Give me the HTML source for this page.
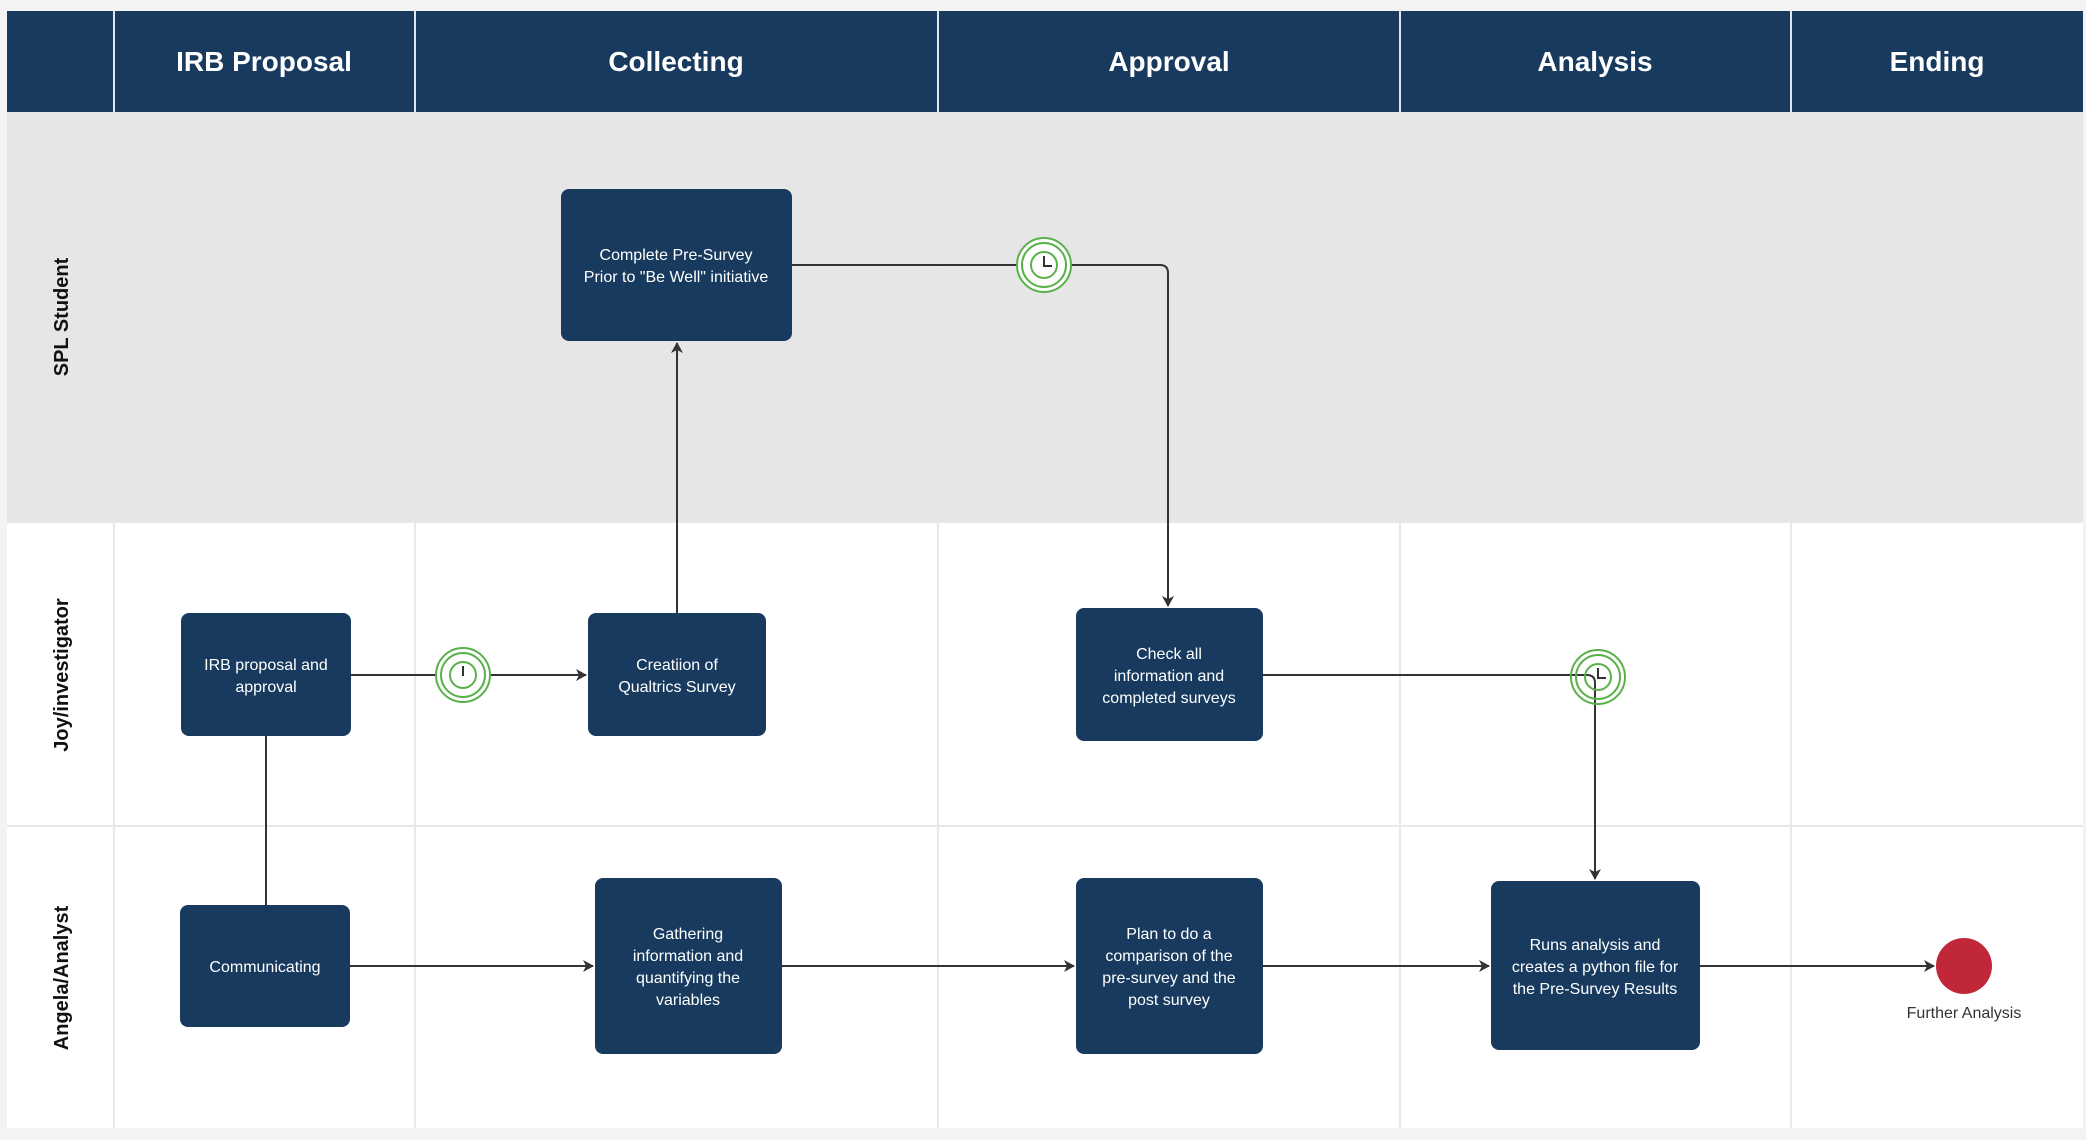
<!DOCTYPE html>
<html><head><meta charset="utf-8"><style>
html,body{margin:0;padding:0;background:#f3f3f3;}
svg{display:block;font-family:"Liberation Sans",sans-serif;}
</style></head><body>
<svg width="2086" height="1140" viewBox="0 0 2086 1140" xmlns="http://www.w3.org/2000/svg">
<defs>
<marker id="a" markerWidth="12" markerHeight="12" refX="10" refY="6" orient="auto" markerUnits="userSpaceOnUse">
<path d="M0,0 L11,6 L0,12 L3,6 Z" fill="#333"/>
</marker>
</defs>
<rect x="0" y="0" width="2086" height="1140" fill="#f3f3f3"/>
<!-- lanes -->
<rect x="7" y="112" width="2076" height="410" fill="#e6e6e6"/>
<rect x="7" y="522" width="2076" height="606" fill="#ffffff"/>
<g stroke="#e8e8e8" stroke-width="2">
<line x1="7" y1="522" x2="2083" y2="522"/>
<line x1="7" y1="826" x2="2083" y2="826"/>
<line x1="114" y1="112" x2="114" y2="1128"/>
<line x1="415" y1="112" x2="415" y2="1128"/>
<line x1="938" y1="112" x2="938" y2="1128"/>
<line x1="1400" y1="112" x2="1400" y2="1128"/>
<line x1="1791" y1="112" x2="1791" y2="1128"/>
</g>
<!-- header -->
<rect x="7" y="11" width="2076" height="101" fill="#173a5e"/>
<g stroke="#e0e6ee" stroke-width="2">
<line x1="114" y1="11" x2="114" y2="112"/>
<line x1="415" y1="11" x2="415" y2="112"/>
<line x1="938" y1="11" x2="938" y2="112"/>
<line x1="1400" y1="11" x2="1400" y2="112"/>
<line x1="1791" y1="11" x2="1791" y2="112"/>
</g>
<g fill="#fff" font-size="28" font-weight="bold" text-anchor="middle">
<text x="264" y="71">IRB Proposal</text>
<text x="676" y="71">Collecting</text>
<text x="1169" y="71">Approval</text>
<text x="1595" y="71">Analysis</text>
<text x="1937" y="71">Ending</text>
</g>
<g fill="#111" font-size="20" font-weight="bold" text-anchor="middle">
<text transform="translate(68,317) rotate(-90)">SPL Student</text>
<text transform="translate(68,675) rotate(-90)">Joy/investigator</text>
<text transform="translate(68,978) rotate(-90)">Angela/Analyst</text>
</g>
<!-- connectors -->
<g stroke="#333" stroke-width="2" fill="none">
<path d="M792,265 H1160 Q1168,265 1168,273 V606" marker-end="url(#a)"/>
<path d="M351,675 H586" marker-end="url(#a)"/>
<path d="M677,613 V343" marker-end="url(#a)"/>
<path d="M266,736 V905"/>
<path d="M1263,675 H1587 Q1595,675 1595,683 V879" marker-end="url(#a)"/>
<path d="M350,966 H593" marker-end="url(#a)"/>
<path d="M782,966 H1074" marker-end="url(#a)"/>
<path d="M1263,966 H1489" marker-end="url(#a)"/>
<path d="M1700,966 H1934" marker-end="url(#a)"/>
</g>
<!-- timers -->
<g fill="#fff" stroke="#5ab04a" stroke-width="2">
<circle cx="1044" cy="265" r="27"/><circle cx="1044" cy="265" r="22"/><circle cx="1044" cy="265" r="13"/>
<circle cx="463" cy="675" r="27"/><circle cx="463" cy="675" r="22"/><circle cx="463" cy="675" r="13"/>
<circle cx="1598" cy="677" r="27" fill="none"/><circle cx="1598" cy="677" r="22" fill="none"/><circle cx="1598" cy="677" r="13" fill="none"/>
</g>
<g stroke="#333" stroke-width="2" fill="none">
<path d="M1044,256 V266 H1052"/>
<path d="M463,666 V676"/>
<path d="M1598,668 V678 H1606"/>
</g>
<!-- nodes -->
<g fill="#173a5e">
<rect x="561" y="189" width="231" height="152" rx="8"/>
<rect x="181" y="613" width="170" height="123" rx="8"/>
<rect x="588" y="613" width="178" height="123" rx="8"/>
<rect x="1076" y="608" width="187" height="133" rx="8"/>
<rect x="180" y="905" width="170" height="122" rx="8"/>
<rect x="595" y="878" width="187" height="176" rx="8"/>
<rect x="1076" y="878" width="187" height="176" rx="8"/>
<rect x="1491" y="881" width="209" height="169" rx="8"/>
</g>
<g fill="#fff" font-size="16" text-anchor="middle">
<text x="676" y="260">Complete Pre-Survey</text>
<text x="676" y="282">Prior to "Be Well" initiative</text>
<text x="266" y="670">IRB proposal and</text>
<text x="266" y="692">approval</text>
<text x="677" y="670">Creatiion of</text>
<text x="677" y="692">Qualtrics Survey</text>
<text x="1169" y="659">Check all</text>
<text x="1169" y="681">information and</text>
<text x="1169" y="703">completed surveys</text>
<text x="265" y="972">Communicating</text>
<text x="688" y="939">Gathering</text>
<text x="688" y="961">information and</text>
<text x="688" y="983">quantifying the</text>
<text x="688" y="1005">variables</text>
<text x="1169" y="939">Plan to do a</text>
<text x="1169" y="961">comparison of the</text>
<text x="1169" y="983">pre-survey and the</text>
<text x="1169" y="1005">post survey</text>
<text x="1595" y="950">Runs analysis and</text>
<text x="1595" y="972">creates a python file for</text>
<text x="1595" y="994">the Pre-Survey Results</text>
</g>
<circle cx="1964" cy="966" r="28" fill="#c0283a"/>
<text x="1964" y="1018" fill="#333" font-size="16" text-anchor="middle">Further Analysis</text>
</svg>
</body></html>
